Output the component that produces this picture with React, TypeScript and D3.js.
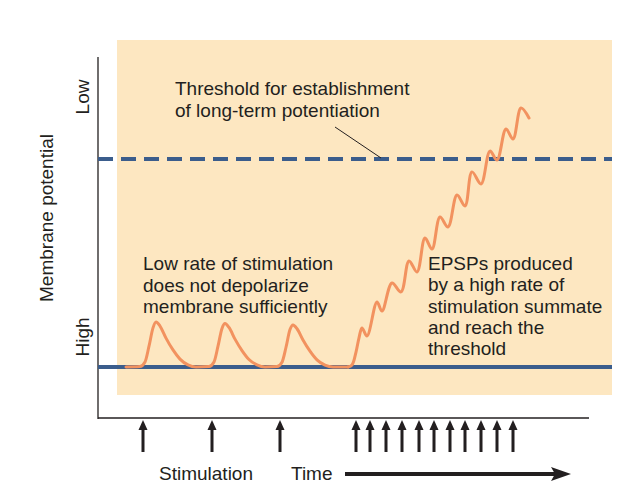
import React from 'react';
import * as d3 from 'd3';

const W = 628;
const H = 496;

// ---- data (time in arbitrary units, potential in % of LTP threshold) ----
const thresholdValue = 100;
const restingValue = 0;
const lowRateStimuli = [22.5, 57, 91];
const highRateStimuli = [129, 136, 144, 152, 160.5, 168, 176, 183.5, 191.5, 199.5, 207.5];

const lowRateTrace: [number, number][] = [
  [14, 0], [21, 0.2], [23.5, 2.4], [25.5, 10], [27.5, 18.8], [29, 21.6], [31, 19.7], [34, 13.9],
  [37.5, 8.2], [41, 3.8], [45, 1], [49, 0],
  [55.5, 0.2], [58, 2.4], [60, 10], [62, 18.5], [63.5, 20.9], [65.5, 19], [68.5, 13.4], [72, 7.9],
  [75.5, 3.6], [79.5, 1], [83.5, 0],
  [89.5, 0.2], [92, 2.3], [94, 9.5], [96, 18], [97.5, 20.2], [99.5, 18.4], [102.5, 13], [106, 7.6],
  [109.5, 3.4], [113.5, 0.9], [117.5, 0], [125, 0],
];

const highRateTrace: [number, number][] = [
  [125, 0], [127, 1], [129, 7.2], [130.5, 14], [132, 18.8], [134.5, 14.9],
  [139.5, 31.3], [142, 26.9], [147, 40.4], [151.5, 36.1], [155.5, 51], [159.5, 45.7],
  [163.5, 62], [167, 56.7], [171, 72.1], [175, 67.3], [179.5, 82.7], [183.5, 77.4],
  [187, 93.8], [191.5, 88], [196, 103.8], [199.5, 99.5], [204, 114.4], [207.5, 109.6],
  [211.5, 124.5], [215.5, 119.7],
];

const thresholdLabel = ['Threshold for establishment', 'of long-term potentiation'];
const lowRateLabel = ['Low rate of stimulation', 'does not depolarize', 'membrane sufficiently'];
const highRateLabel = ['EPSPs produced', 'by a high rate of', 'stimulation summate', 'and reach the', 'threshold'];
const yAxisTitle = 'Membrane potential';
const yLowLabel = 'Low';
const yHighLabel = 'High';
const stimulationLabel = 'Stimulation';
const timeLabel = 'Time';

// ---- styles ----
const PANEL = '#fde7c1';
const BLUE = '#3b5d8c';
const ORANGE = '#f2925f';
const INK = '#231f20';
const FONT = '"Liberation Sans", Arial, Helvetica, sans-serif';
const FS = 19;

export default function App() {
  const x = d3.scaleLinear().domain([0, 246]).range([98, 590]);
  const y = d3.scaleLinear().domain([0, 100]).range([367, 159]);

  const lowLine = d3
    .line<[number, number]>()
    .x((d) => x(d[0]))
    .y((d) => y(d[1]))
    .curve(d3.curveMonotoneX);
  const highLine = d3
    .line<[number, number]>()
    .x((d) => x(d[0]))
    .y((d) => y(d[1]))
    .curve(d3.curveCatmullRom.alpha(0.5));

  const stimuli = [...lowRateStimuli, ...highRateStimuli];

  const arrowTip = 420;
  const arrowBase = 452;

  return (
    <svg
      width={W}
      height={H}
      style={{ position: 'absolute', left: 0, top: 0, background: '#fff' }}
      fontFamily={FONT}
    >
      <rect x={0} y={0} width={W} height={H} fill="#fff" />
      {/* panel */}
      <rect x={117} y={40} width={612 - 117} height={395 - 40} fill={PANEL} />

      {/* axes */}
      <line x1={98} y1={57} x2={98} y2={419} stroke={INK} strokeWidth={1.3} />
      <line x1={98} y1={418} x2={589} y2={418} stroke={INK} strokeWidth={1.3} />

      {/* resting and threshold lines */}
      <line x1={98} x2={612} y1={y(restingValue)} y2={y(restingValue)} stroke={BLUE} strokeWidth={4} />
      <line
        x1={98}
        x2={612}
        y1={y(thresholdValue)}
        y2={y(thresholdValue)}
        stroke={BLUE}
        strokeWidth={4}
        strokeDasharray="15 8"
      />

      {/* membrane potential trace */}
      <path d={lowLine(lowRateTrace) || ''} fill="none" stroke={ORANGE} strokeWidth={3} strokeLinejoin="round" strokeLinecap="round" />
      <path d={highLine(highRateTrace) || ''} fill="none" stroke={ORANGE} strokeWidth={3} strokeLinejoin="round" strokeLinecap="round" />

      {/* leader line */}
      <line x1={335} y1={127} x2={381} y2={158} stroke={INK} strokeWidth={1} />

      {/* annotations */}
      <text fontSize={FS} fill={INK}>
        {thresholdLabel.map((t, i) => (
          <tspan key={i} x={175} y={95 + i * 22}>{t}</tspan>
        ))}
      </text>
      <text fontSize={FS} fill={INK}>
        {lowRateLabel.map((t, i) => (
          <tspan key={i} x={143} y={270 + i * 21.5}>{t}</tspan>
        ))}
      </text>
      <text fontSize={FS} fill={INK}>
        {highRateLabel.map((t, i) => (
          <tspan key={i} x={428} y={270 + i * 21.3}>{t}</tspan>
        ))}
      </text>

      {/* y-axis labels */}
      <text
        fontSize={FS}
        fill={INK}
        textAnchor="middle"
        transform={`translate(53,218) rotate(-90)`}
      >
        {yAxisTitle}
      </text>
      <text fontSize={FS} fill={INK} textAnchor="middle" transform={`translate(89,97) rotate(-90)`}>
        {yLowLabel}
      </text>
      <text fontSize={FS} fill={INK} textAnchor="middle" transform={`translate(89,337) rotate(-90)`}>
        {yHighLabel}
      </text>

      {/* stimulation arrows */}
      {stimuli.map((s, i) => {
        const cx = x(s);
        return (
          <g key={i} fill={INK}>
            <rect x={cx - 1.5} y={arrowTip + 6} width={3} height={arrowBase - arrowTip - 6} />
            <path d={`M${cx},${arrowTip} L${cx + 4.5},${arrowTip + 10} L${cx - 4.5},${arrowTip + 10} Z`} />
          </g>
        );
      })}

      {/* bottom labels */}
      <text x={159} y={480} fontSize={FS} fill={INK}>{stimulationLabel}</text>
      <text x={291} y={480} fontSize={FS} fill={INK}>{timeLabel}</text>
      <line x1={345} y1={474} x2={556} y2={474} stroke={INK} strokeWidth={4} />
      <path d="M571,474 L551,467 L555,474 L551,481 Z" fill={INK} />
    </svg>
  );
}
